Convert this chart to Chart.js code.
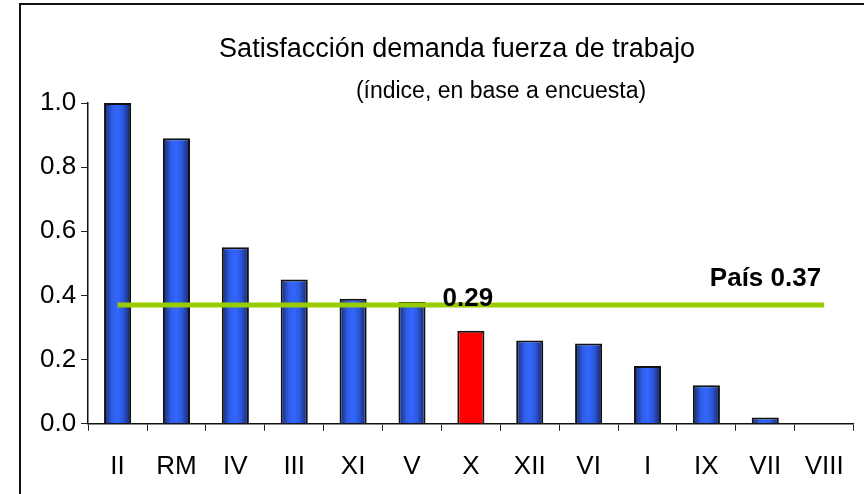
<!DOCTYPE html>
<html>
<head>
<meta charset="utf-8">
<script src="https://cdn.jsdelivr.net/npm/chart.js@4.4.1/dist/chart.umd.min.js"></script>
<style>
  html, body { margin: 0; padding: 0; background: #fff; overflow: hidden; }
  #wrap { position: relative; width: 864px; height: 494px; }
  #frame { position: absolute; left: 19px; top: 3px; width: 900px; height: 600px; border: 2px solid #111; }
  #chart { position: absolute; left: 0; top: 0; }
</style>
</head>
<body>
<div id="wrap">
  <div id="frame"></div>
  <canvas id="chart" width="864" height="494"></canvas>
</div>
<script>
const categorias = ['II', 'RM', 'IV', 'III', 'XI', 'V', 'X', 'XII', 'VI', 'I', 'IX', 'VII', 'VIII'];
const indice = [1.00, 0.89, 0.55, 0.45, 0.39, 0.38, 0.29, 0.26, 0.25, 0.18, 0.12, 0.02, 0.0];
const lineaPais = [0.37, 0.37, 0.37, 0.37, 0.37, 0.37, 0.37, 0.37, 0.37, 0.37, 0.37, 0.37, 0.37];
const yTicks = [0.0, 0.2, 0.4, 0.6, 0.8, 1.0];
const regionDestacada = 'X';
const etiquetaRegion = '0.29';
const etiquetaPais = 'País 0.37';
const titulo = 'Satisfacción demanda fuerza de trabajo';
const subtitulo = '(índice, en base a encuesta)';

const FONT = '"Liberation Sans", Arial, sans-serif';
const BAR_PCT = 0.46;

function barFill(ctx){
  const chart = ctx.chart;
  if (categorias[ctx.dataIndex] === regionDestacada) return '#ff0000';
  if (!chart.chartArea) return '#3366ff';
  const xs = chart.scales.x;
  const cx = xs.getPixelForValue(ctx.dataIndex);
  const half = xs.width / categorias.length * BAR_PCT / 2;
  const g = chart.ctx.createLinearGradient(cx - half, 0, cx + half, 0);
  g.addColorStop(0, '#16286a');
  g.addColorStop(0.3, '#2f5ee8');
  g.addColorStop(0.5, '#3366ff');
  g.addColorStop(0.7, '#2c58dc');
  g.addColorStop(1, '#142463');
  return g;
}

// titulo, subtitulo y etiquetas de texto
const textos = {
  id: 'textos',
  afterDraw(chart){
    const c = chart.ctx;
    const xs = chart.scales.x, ys = chart.scales.y;
    c.save();
    c.fillStyle = '#000';
    c.textAlign = 'center';
    c.textBaseline = 'alphabetic';
    c.font = '27px ' + FONT;
    c.fillText(titulo, 457, 57);
    c.font = '23px ' + FONT;
    c.fillText(subtitulo, 501, 98);

    c.font = 'bold 26px ' + FONT;
    const iX = categorias.indexOf(regionDestacada);
    c.fillText(etiquetaRegion, xs.getPixelForValue(iX) - 3, ys.getPixelForValue(lineaPais[iX]) + 1);
    c.textAlign = 'right';
    const last = categorias.length - 1;
    c.fillText(etiquetaPais, xs.getPixelForValue(last) - 3, ys.getPixelForValue(lineaPais[last]) - 19);
    c.restore();
  }
};

const ctx = document.getElementById('chart').getContext('2d');
const chart = new Chart(ctx, {
  data: {
    labels: categorias,
    datasets: [
      {
        type: 'line',
        label: 'País',
        data: lineaPais,
        borderColor: '#99cc00',
        borderWidth: 5,
        pointRadius: 0,
        fill: false,
        order: 0
      },
      {
        type: 'bar',
        label: 'Índice',
        data: indice,
        backgroundColor: barFill,
        borderColor: '#111',
        borderWidth: 2,
        borderSkipped: 'bottom',
        categoryPercentage: 1,
        barPercentage: BAR_PCT,
        order: 1
      }
    ]
  },
  options: {
    responsive: false,
    animation: false,
    layout: { padding: { left: 35, right: 9, top: 103, bottom: -8 } },
    plugins: {
      legend: { display: false },
      tooltip: { enabled: false },
      title: { display: false }
    },
    scales: {
      x: {
        offset: true,
        grid: { offset: true, drawOnChartArea: false, drawTicks: true, tickLength: 7, color: '#222', lineWidth: 1 },
        border: { display: true, color: '#111', width: 1.5 },
        ticks: { color: '#000', font: { family: FONT, size: 26 }, padding: 20, maxRotation: 0, autoSkip: false }
      },
      y: {
        min: 0,
        max: 1,
        afterBuildTicks(axis){ axis.ticks = yTicks.map(v => ({ value: v })); },
        grid: { drawOnChartArea: false, drawTicks: true, tickLength: 7, color: '#222', lineWidth: 1 },
        border: { display: true, color: '#111', width: 1.5 },
        ticks: { color: '#000', font: { family: FONT, size: 26 }, padding: 5, callback: v => v.toFixed(1) }
      }
    }
  },
  plugins: [textos]
});
</script>
</body>
</html>
